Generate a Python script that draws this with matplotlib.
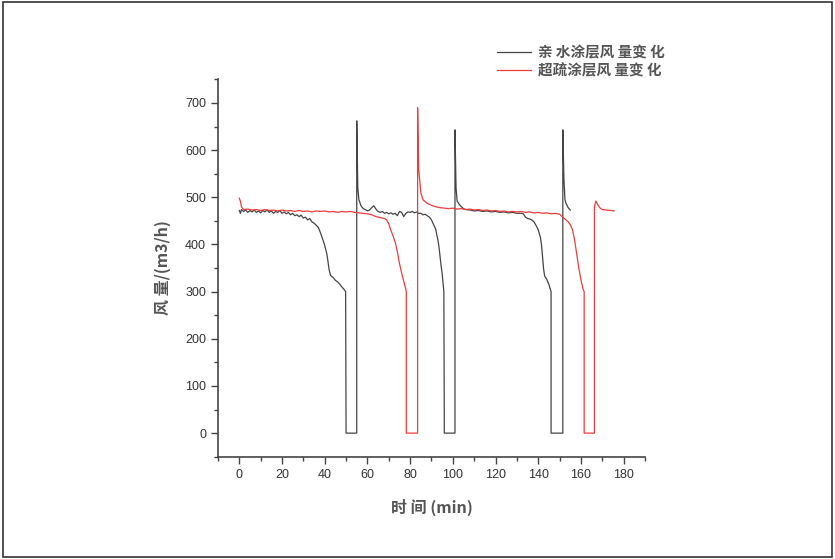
import matplotlib
matplotlib.use('Agg')
import matplotlib.pyplot as plt
from matplotlib.patches import Rectangle
from matplotlib.ticker import MultipleLocator

plt.rcParams['font.family'] = ['Liberation Sans', 'DejaVu Sans']

# 亲水涂层 (black)
black_t = [0, 0.5, 1, 2, 3, 4, 5, 6, 7, 8, 9, 10, 11, 12, 13, 14, 15, 16, 17, 18,
           19, 20, 21, 22, 23, 24, 25, 26, 27, 28, 29, 30, 31, 32, 33, 34, 35, 36,
           37, 38, 39, 40, 41, 41.5, 42, 42.5, 43, 44, 45, 46, 47, 48, 49, 49.8,
           50, 55, 55, 55.5, 56, 57, 58, 59, 60, 61, 62, 63, 64, 65, 66, 67, 68,
           69, 70, 71, 72, 73, 74, 75, 76, 77, 78, 79, 80, 81, 82, 83, 84, 85, 86,
           87, 88, 89, 90, 91, 92, 92.5, 93, 93.5, 94, 94.5, 95, 95.5, 95.8,
           96, 101, 101, 101.5, 102, 103, 104, 105, 106, 108, 110, 112, 114, 116,
           118, 120, 122, 124, 126, 128, 130, 132, 133, 134, 135, 136, 137, 138,
           139, 140, 141, 141.5, 142, 142.5, 143, 144, 145, 145.7, 146,
           146, 151.5, 151.5, 152, 152.5, 153, 154, 155]
black_v = [472, 466, 474, 470, 473, 468, 472, 469, 473, 468, 471, 467, 472, 469, 473, 468, 471, 466, 470, 468,
           472, 466, 469, 465, 468, 463, 466, 461, 463, 459, 462, 456, 458, 452, 455, 448, 445, 441,
           436, 425, 412, 398, 380, 365, 348, 338, 333, 330, 324, 321, 316, 310, 305, 300,
           0, 0, 662, 520, 495, 482, 476, 474, 471, 473, 478, 482, 475, 470, 468, 470, 466,
           468, 465, 467, 464, 466, 461, 470, 468, 459, 466, 469, 468, 470, 467, 469, 466, 466, 463,
           464, 461, 458, 452, 442, 432, 420, 410, 395, 375, 355, 338, 315, 300,
           0, 0, 643, 520, 492, 485, 480, 476, 474, 473, 471, 472, 470, 471,
           469, 470, 468, 469, 467, 468, 466, 466, 465, 458, 455, 454, 452, 448,
           440, 431, 415, 400, 375, 348, 333, 326, 315, 305, 300,
           0, 0, 643, 540, 495, 487, 478, 473]

# 超疏涂层 (red)
red_t = [0, 0.5, 1, 2, 4, 6, 8, 10, 12, 14, 16, 18, 20, 22, 24, 26, 28, 30, 32, 34,
         36, 38, 40, 42, 44, 46, 48, 50, 52, 54, 56, 58, 60, 62, 64, 66, 68, 69, 70,
         71, 72, 73, 74, 75, 76, 77, 78, 78.2, 78.2, 83.5, 83.5, 84, 85, 86, 88, 90,
         92, 94, 96, 98, 100, 102, 104, 106, 108, 110, 112, 114, 116, 118, 120, 122,
         124, 126, 128, 130, 132, 134, 136, 138, 140, 142, 144, 146, 148, 150, 151,
         152, 153, 154, 155, 156, 157, 158, 159, 160, 161, 161.5, 161.5, 161.5,
         166.3, 166.3, 167, 168, 169, 170, 172, 174, 175.5]
red_v = [498, 492, 480, 474, 475, 473, 474, 472, 474, 472, 473, 471, 473, 471, 472, 470, 472, 470, 471, 469,
         471, 470, 471, 469, 470, 468, 470, 469, 470, 468, 467, 466, 465, 463, 459, 457, 455, 452, 444,
         430, 418, 405, 385, 360, 340, 322, 305, 300, 0, 0, 690, 560, 510, 495, 487, 483,
         480, 478, 477, 476, 477, 475, 476, 474, 475, 473, 474, 472, 473, 471, 472, 470,
         471, 469, 470, 469, 470, 468, 469, 467, 468, 466, 467, 465, 466, 464, 460,
         456, 452, 448, 442, 432, 410, 380, 350, 325, 305, 300, 150, 0,
         0, 480, 492, 483, 477, 474, 473, 472, 471]

fig = plt.figure(figsize=(8.35, 5.59), dpi=100)
ax = fig.add_axes([0.261, 0.183, 0.5115, 0.675])

ax.plot(black_t, black_v, color='#444444', lw=0.9, label='亲 水涂层风 量变 化')
ax.plot(red_t, red_v, color='#ee3b3b', lw=0.9, label='超疏涂层风 量变 化')

ax.set_xlim(-10, 190)
ax.set_ylim(-50, 750)
ax.xaxis.set_major_locator(MultipleLocator(20))
ax.xaxis.set_minor_locator(MultipleLocator(10))
ax.yaxis.set_major_locator(MultipleLocator(100))
ax.yaxis.set_minor_locator(MultipleLocator(50))
ax.set_xticks(range(0, 181, 20))
ax.set_yticks(range(0, 701, 100))
ax.tick_params(which='major', direction='out', length=5, width=1, colors='#444444',
               labelsize=9, labelcolor='#333333')
ax.tick_params(which='minor', direction='out', length=3, width=1, colors='#444444')
for s in ['top', 'right']:
    ax.spines[s].set_visible(False)
for s in ['left', 'bottom']:
    ax.spines[s].set_color('#444444')
    ax.spines[s].set_linewidth(1.2)

cjk = ['Noto Sans CJK SC', 'DejaVu Sans']
ax.set_xlabel('时 间 (min)', family=cjk, fontsize=11.5, color='#555555',
              fontweight='bold', labelpad=13)
ax.set_ylabel('风 量/(m3/h)', family=cjk, fontsize=11.5, color='#555555',
              fontweight='bold', labelpad=10)

leg = ax.legend(loc='upper left', bbox_to_anchor=(497 / 835, 1 - 44 / 559),
                bbox_transform=fig.transFigure, frameon=False,
                prop={'family': cjk, 'size': 10.5, 'weight': 'bold'},
                handlelength=2.3, handletextpad=0.5, labelspacing=0.15,
                borderaxespad=0, borderpad=0)
for t in leg.get_texts():
    t.set_color('#555555')

fig.patches.append(Rectangle((0.003, 0.004), 0.994, 0.992, transform=fig.transFigure,
                             fill=False, edgecolor='#333333', lw=1.2))

fig.savefig('out.png', dpi=100)
